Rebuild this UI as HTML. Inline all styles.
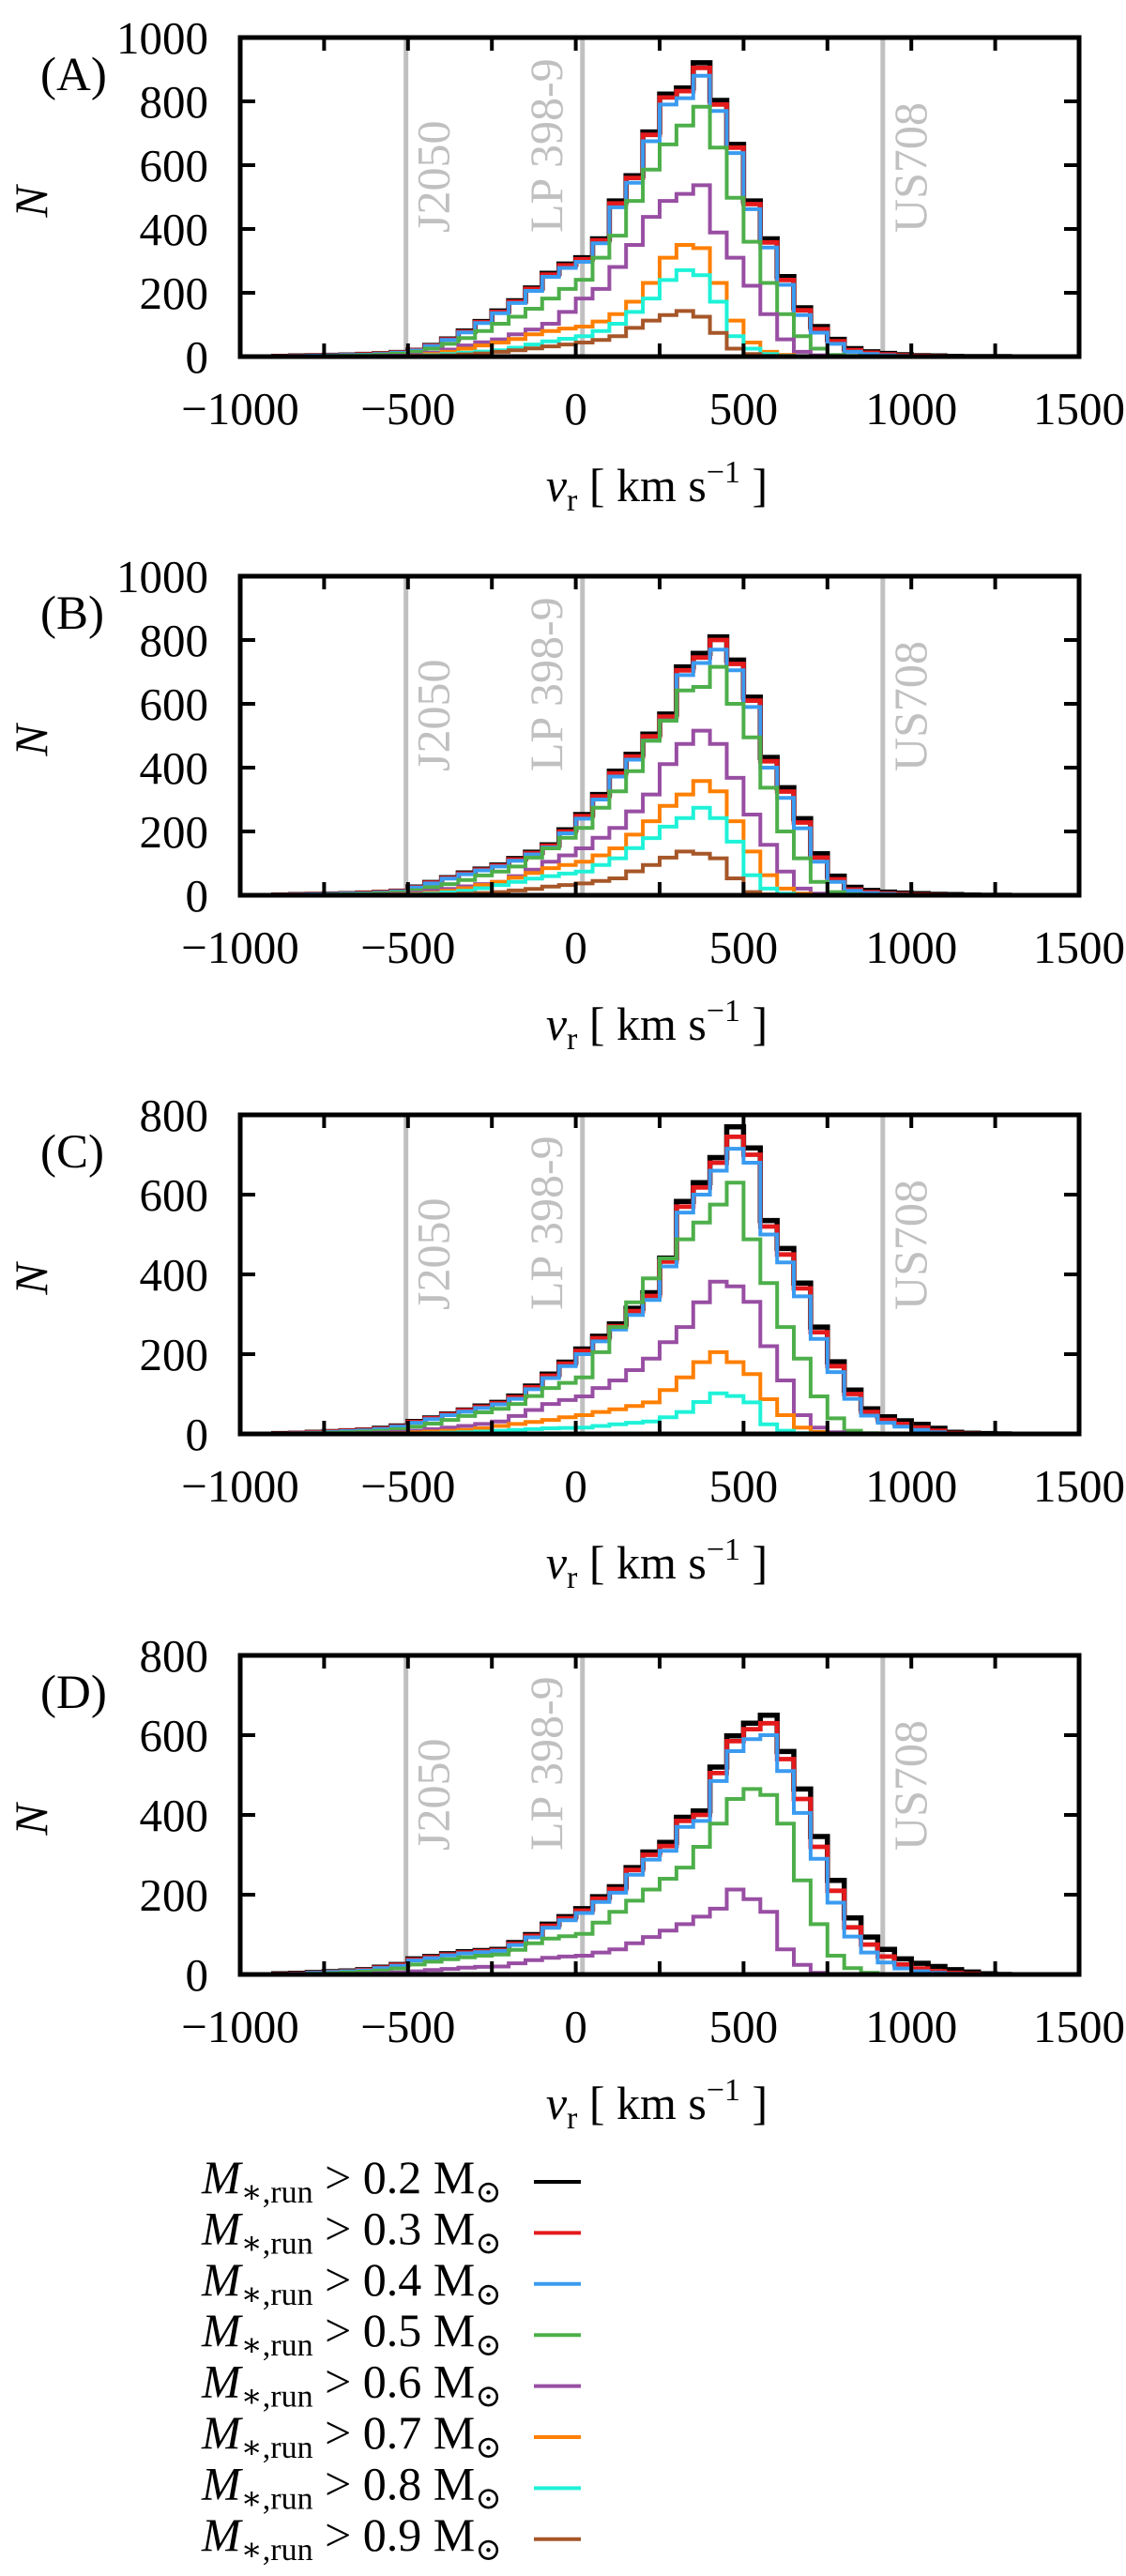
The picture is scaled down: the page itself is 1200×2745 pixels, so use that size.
<!DOCTYPE html>
<html><head><meta charset="utf-8">
<style>
html,body{margin:0;padding:0;background:#fff;}
svg{display:block;font-family:"Liberation Serif","DejaVu Serif",serif;}
</style></head>
<body>
<svg id="fig" width="1200" height="2745" viewBox="0 0 1200 2745" xmlns="http://www.w3.org/2000/svg"></svg>
<script>
// ---- data ----
const binEdges = [-900,-850,-800,-750,-700,-650,-600,-550,-500,-450,-400,-350,-300,-250,-200,-150,-100,-50,0,50,100,150,200,250,300,350,400,450,500,550,600,650,700,750,800,850,900,950,1000,1050,1100,1150,1200,1250];
const binWidth = 50;
const seriesLabels = ["0.2","0.3","0.4","0.5","0.6","0.7","0.8","0.9"];
const xTicks = [-1000,-500,0,500,1000,1500];
const yTicksAB = [0,200,400,600,800,1000];
const yTicksCD = [0,200,400,600,800];
const markerNames = ["J2050","LP 398-9","US708"];
const markerVel = [-506,20,915];

const A02=[1,2,3,4,5,7,9,13,20,35,55,80,110,143,175,215,261,290,310,369,488,567,704,823,842,921,803,665,488,369,251,153,94,54,25,15,10,6,3,2,1,0,0,0];
const A03=[1,2,3,4,5,7,9,13,20,34,54,78,108,140,172,212,257,286,305,364,480,560,695,812,832,905,790,655,478,358,240,145,86,48,20,12,7,4,2,1,0,0,0,0];
const A04=[1,2,3,4,5,6,8,12,19,33,52,76,105,136,168,206,250,278,297,355,468,545,675,790,810,880,770,638,462,342,225,130,75,40,15,8,4,2,1,0,0,0,0,0];
const A05=[0,1,1,2,3,4,6,9,15,25,40,58,80,103,125,150,182,212,241,310,379,488,586,665,724,783,655,498,360,231,133,64,25,5,2,1,0,0,0,0,0,0,0,0];
const A06=[0,0,0,0,1,1,2,3,5,12,22,35,45,54,70,85,103,140,182,212,281,350,438,488,510,537,389,310,222,133,54,15,4,1,0,0,0,0,0,0,0,0,0,0];
const A07=[0,0,0,0,0,0,1,1,2,8,15,25,35,44,55,70,80,88,94,110,133,172,231,310,350,340,231,113,44,15,5,1,0,0,0,0,0,0,0,0,0,0,0,0];
const A08=[0,0,0,0,0,0,0,1,1,4,8,12,16,20,28,38,48,56,64,80,103,140,182,240,271,255,172,64,25,8,2,0,0,0,0,0,0,0,0,0,0,0,0,0];
const A09=[0,0,0,0,0,0,0,0,1,2,4,7,10,15,20,26,32,38,44,52,64,90,113,130,143,125,74,25,8,2,0,0,0,0,0,0,0,0,0,0,0,0,0,0];

const B02=[1,2,3,4,5,7,9,13,26,40,55,70,82,95,115,135,158,205,253,316,389,442,505,568,716,758,810,737,621,432,337,240,130,60,25,15,10,7,5,3,2,1,0,0];
const B03=[1,2,3,4,5,7,9,13,25,39,54,68,80,93,112,132,155,200,248,310,382,435,498,560,705,745,800,725,610,420,325,228,118,50,18,10,6,4,2,1,0,0,0,0];
const B04=[1,2,3,4,5,6,8,12,24,37,52,66,78,90,108,128,150,194,240,300,372,425,485,548,690,728,770,705,590,400,305,210,105,42,14,7,4,2,1,0,0,0,0,0];
const B05=[0,1,1,2,3,4,6,9,16,25,35,48,62,74,90,118,147,180,211,274,326,389,484,547,642,653,716,600,495,337,200,116,42,10,3,1,0,0,0,0,0,0,0,0];
const B06=[0,0,0,0,1,1,2,4,8,14,20,28,35,42,60,80,105,125,147,180,211,263,316,411,474,516,474,368,253,158,74,21,5,1,0,0,0,0,0,0,0,0,0,0];
const B07=[0,0,0,0,0,0,1,2,4,8,14,22,32,42,55,70,85,95,105,125,147,190,232,280,316,358,326,232,137,63,21,5,1,0,0,0,0,0,0,0,0,0,0,0];
const B08=[0,0,0,0,0,0,0,1,2,5,9,14,22,32,42,52,60,68,74,95,116,148,179,215,242,274,242,168,63,21,5,1,0,0,0,0,0,0,0,0,0,0,0,0];
const B09=[0,0,0,0,0,0,0,0,1,2,3,5,7,10,15,20,27,32,37,45,53,75,95,118,137,130,116,53,10,3,0,0,0,0,0,0,0,0,0,0,0,0,0,0];

const C02=[1,2,4,6,8,10,14,20,31,40,50,60,70,79,95,120,150,180,213,245,276,315,354,441,583,630,693,770,717,535,465,378,268,181,110,63,43,33,24,14,4,2,1,0];
const C03=[1,2,4,6,8,10,13,19,30,39,49,59,68,77,92,117,146,176,208,240,270,308,346,432,570,618,680,745,700,520,450,365,255,170,100,55,35,25,16,8,2,1,0,0];
const C04=[1,2,3,5,7,9,12,18,28,37,47,56,65,74,88,112,140,170,200,232,262,298,336,420,555,600,660,715,680,500,430,345,238,155,88,46,28,18,10,4,1,0,0,0];
const C05=[0,1,2,3,4,6,8,12,18,26,35,45,54,63,75,95,115,128,142,205,268,330,390,440,488,530,575,630,488,378,268,189,94,39,8,2,0,0,0,0,0,0,0,0];
const C06=[0,0,0,1,1,2,3,5,8,12,16,20,25,31,45,60,75,85,94,115,134,160,189,230,268,330,382,370,331,220,134,47,16,4,1,0,0,0,0,0,0,0,0,0];
const C07=[0,0,0,0,0,1,1,2,4,6,8,10,14,20,25,30,35,42,47,55,62,70,79,110,142,180,205,180,150,87,47,16,5,1,0,0,0,0,0,0,0,0,0,0];
const C08=[0,0,0,0,0,0,0,1,1,2,3,4,6,8,10,12,14,15,16,20,24,28,31,42,55,80,102,95,79,24,8,2,0,0,0,0,0,0,0,0,0,0,0,0];
const C09=[0,0,0,0,0,0,0,0,0,0,0,0,0,0,0,0,0,0,0,0,0,0,0,0,0,0,0,0,0,0,0,0,0,0,0,0,0,0,0,0,0,0,0,0];

const D02=[2,3,5,7,9,12,18,25,39,45,52,57,60,63,80,100,126,145,165,195,220,268,307,331,394,410,520,598,630,650,559,465,346,236,142,94,63,39,28,20,12,6,2,0];
const D03=[1,2,4,6,8,11,17,24,37,43,50,55,58,61,77,97,122,141,160,190,214,262,300,322,385,400,505,585,615,630,540,440,320,210,118,75,45,25,15,8,4,2,0,0];
const D04=[1,2,4,6,8,10,16,22,35,41,48,53,56,59,74,93,117,136,154,182,205,250,288,310,370,385,485,560,590,600,510,405,290,180,95,55,30,15,8,4,2,1,0,0];
const D05=[0,1,2,3,5,7,10,15,25,32,38,43,47,50,62,78,90,96,102,130,157,185,213,240,268,320,378,440,465,450,378,236,126,47,16,4,1,0,0,0,0,0,0,0];
const D06=[0,0,0,1,1,2,3,5,8,11,14,17,19,20,28,36,42,45,47,55,63,78,94,110,126,145,165,213,189,157,63,24,4,1,0,0,0,0,0,0,0,0,0,0];
const D07=[0,0,0,0,0,0,0,0,0,0,0,0,0,0,0,0,0,0,0,0,0,0,0,0,0,0,0,0,0,0,0,0,0,0,0,0,0,0,0,0,0,0,0,0];
const D08=[0,0,0,0,0,0,0,0,0,0,0,0,0,0,0,0,0,0,0,0,0,0,0,0,0,0,0,0,0,0,0,0,0,0,0,0,0,0,0,0,0,0,0,0];
const D09=[0,0,0,0,0,0,0,0,0,0,0,0,0,0,0,0,0,0,0,0,0,0,0,0,0,0,0,0,0,0,0,0,0,0,0,0,0,0,0,0,0,0,0,0];

// ---- layout ----
const NS="http://www.w3.org/2000/svg";
const svg=document.getElementById('fig');
const colors=["#000000","#e41a1c","#3a9bf0","#4daf4a","#984ea3","#ff7f00","#1ef2d8","#a65628"];
const widths=[5.5,4.8,4,4,4,4,4,4];
const X0=256, X1=1150, VMIN=-1000, VMAX=1500;
const panels=[
  {id:"a",label:"(A)",top:40,ymax:1000,ticks:yTicksAB,series:[A02,A03,A04,A05,A06,A07,A08,A09]},
  {id:"b",label:"(B)",top:614,ymax:1000,ticks:yTicksAB,series:[B02,B03,B04,B05,B06,B07,B08,B09]},
  {id:"c",label:"(C)",top:1188,ymax:800,ticks:yTicksCD,series:[C02,C03,C04,C05,C06,C07,C08,C09]},
  {id:"d",label:"(D)",top:1764,ymax:800,ticks:yTicksCD,series:[D02,D03,D04,D05,D06,D07,D08,D09]}
];
const H=340;
function xs(v){return X0+(v-VMIN)/(VMAX-VMIN)*(X1-X0);}
function mk(tag,attrs,parent){const e=document.createElementNS(NS,tag);for(const k in attrs)e.setAttribute(k,attrs[k]);(parent||svg).appendChild(e);return e;}

panels.forEach(p=>{
  const ys=v=>p.top+H-(v/p.ymax)*H;
  const g=mk('g',{});
  
  
  const cp=mk('clipPath',{id:'clip-'+p.id},g);
  mk('rect',{x:X0,y:p.top,width:X1-X0,height:H},cp);
  markerVel.forEach((v,i)=>{
    const x=xs(v);
    const l=mk('line',{x1:x,x2:x,y1:p.top,y2:p.top+H,stroke:'#c0c0c0','stroke-width':5},g);
    
    
    const tx = i===1 ? x-22 : x+46;
    const t=mk('text',{x:0,y:0,transform:`translate(${tx},${p.top+208}) rotate(-90)`,'text-anchor':'start','font-size':50,fill:'#c0c0c0'},g);
    t.textContent=markerNames[i];
    
    
  });
  const sg=mk('g',{'clip-path':`url(#clip-${p.id})`},g);
  p.series.forEach((arr,si)=>{
    let d=`M${xs(binEdges[0]).toFixed(1)},${ys(0).toFixed(1)}`;
    arr.forEach((val,i)=>{
      const y=ys(val).toFixed(1);
      d+=`V${y}H${xs(binEdges[i]+binWidth).toFixed(1)}`;
    });
    d+=`V${ys(0).toFixed(1)}`;
    const path=mk('path',{d:d,fill:'none',stroke:colors[si],'stroke-width':widths[si],'stroke-linejoin':'miter'},sg);
    
    
  });
  const fr=mk('rect',{x:X0,y:p.top,width:X1-X0,height:H,fill:'none',stroke:'#000','stroke-width':5},g);
  
  
  for(let v=VMIN; v<=VMAX; v+=250){
    const x=xs(v);
    mk('line',{x1:x,x2:x,y1:p.top+H,y2:p.top+H-14,stroke:'#000','stroke-width':4},g);
    mk('line',{x1:x,x2:x,y1:p.top,y2:p.top+14,stroke:'#000','stroke-width':4},g);
  }
  xTicks.forEach(v=>{
    const t=mk('text',{x:xs(v),y:p.top+H+72,'text-anchor':'middle','font-size':49},g);
    t.textContent=(v<0?'\u2212'+(-v):String(v));
    
    
  });
  p.ticks.forEach(v=>{
    const y=ys(v);
    mk('line',{x1:X0,x2:X0+16,y1:y,y2:y,stroke:'#000','stroke-width':4},g);
    mk('line',{x1:X1,x2:X1-16,y1:y,y2:y,stroke:'#000','stroke-width':4},g);
    const t=mk('text',{x:222,y:y+17,'text-anchor':'end','font-size':49},g);
    t.textContent=String(v);
    
    
  });
  const lab=mk('text',{x:43,y:p.top+56,'font-size':51},g);
  lab.textContent=p.label;
  
  
  const yl=mk('text',{x:0,y:0,transform:`translate(50,${p.top+175}) rotate(-90)`,'text-anchor':'middle','font-size':50,'font-style':'italic'},g);
  yl.textContent='N';
  
  
  const xl=mk('text',{x:700,y:p.top+H+154,'text-anchor':'middle','font-size':50},g);
  xl.innerHTML='<tspan font-style="italic">v</tspan><tspan font-size="34" dy="10">r</tspan><tspan dy="-10"> [ km s</tspan><tspan font-size="34" dy="-20">\u22121</tspan><tspan dy="20"> ]</tspan>';
  
  
});

const lg=mk('g',{});


seriesLabels.forEach((s,i)=>{
  const by=2337+54.4*i;
  const e=mk('g',{},lg);
  
  
  const t=mk('text',{x:215,y:by,'font-size':50},e);
  t.innerHTML='<tspan font-style="italic">M</tspan><tspan font-size="34" dy="10">\u2217,run</tspan><tspan dy="-10"> &gt; '+s+' M</tspan><tspan font-size="34" dy="10">\u2299</tspan>';
  mk('line',{x1:569,x2:619,y1:by-12,y2:by-12,stroke:colors[i],'stroke-width':4},e);
});
</script>
</body></html>
